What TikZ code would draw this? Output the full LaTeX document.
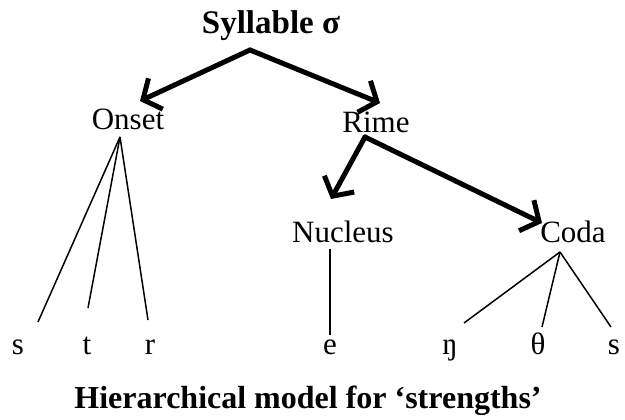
\documentclass[tikz,border=0pt]{standalone}
\usepackage{fontspec}
\setmainfont{Liberation Serif}
\usetikzlibrary{arrows.meta}

\begin{document}
\begin{tikzpicture}[x=1pt, y=-1pt]
    \definecolor{lineColour}{HTML}{000000}

    \tikzset{
        label/.style={anchor=base, inner sep=0pt, font=\fontsize{31}{36}\selectfont},
        heading/.style={anchor=base, inner sep=0pt, font=\fontsize{32}{38}\selectfont\bfseries},
        branch/.style={draw=lineColour, line width=5pt, line cap=round,
            -{Straight Barb[length=14pt, width=34pt, line width=5pt]}},
        twig/.style={draw=lineColour, line width=1.5pt}
    }

    \useasboundingbox (0,0) rectangle (625,420);

    % Headings
    \node[heading, font=\fontsize{33}{38}\selectfont\bfseries] (syl) at (271,34) {Syllable σ};
    \node[heading] (title) at (308,408) {Hierarchical model for ‘strengths’};

    % Constituents
    \node[label] (onset) at (128,130) {Onset};
    \node[label] (rime) at (376,132) {Rime};
    \node[label] (nucleus) at (343,243) {Nucleus};
    \node[label] (coda) at (573,243) {Coda};

    % Segments
    \node[label] (s1) at (18,354) {s};
    \node[label] (t) at (87,354) {t};
    \node[label] (r) at (150,354) {r};
    \node[label] (e) at (330,354) {e};
    \node[label] (eng) at (450,354) {ŋ};
    \node[label] (theta) at (538,354) {θ};
    \node[label] (s2) at (614,354) {s};

    % Branch points
    \coordinate (sylRoot) at (250,50);
    \coordinate (onsetTip) at (140,101);
    \coordinate (rimeTip) at (380,103);
    \coordinate (rimeRoot) at (365,137);
    \coordinate (nucleusTip) at (331,199);
    \coordinate (codaTip) at (542,223);
    \coordinate (onsetRoot) at (120,137);
    \coordinate (nucleusRoot) at (330,249);
    \coordinate (codaRoot) at (560,252);

    % Segment ends
    \coordinate (s1Top) at (38,322);
    \coordinate (tTop) at (88,308);
    \coordinate (rTop) at (148,320);
    \coordinate (eTop) at (330,335);
    \coordinate (engTop) at (464,323);
    \coordinate (thetaTop) at (542,327);
    \coordinate (s2Top) at (611,327);

    % Draw arrows
    \draw[branch] (sylRoot) -- (onsetTip);
    \draw[branch] (sylRoot) -- (rimeTip);
    \draw[branch] (rimeRoot) -- (nucleusTip);
    \draw[branch] (rimeRoot) -- (codaTip);

    % Draw segment lines
    \foreach \leaf in {s1Top,tTop,rTop}
        \draw[twig] (onsetRoot) -- (\leaf);
    \draw[twig] (nucleusRoot) -- (eTop);
    \foreach \leaf in {engTop,thetaTop,s2Top}
        \draw[twig] (codaRoot) -- (\leaf);

\end{tikzpicture}
\end{document}
